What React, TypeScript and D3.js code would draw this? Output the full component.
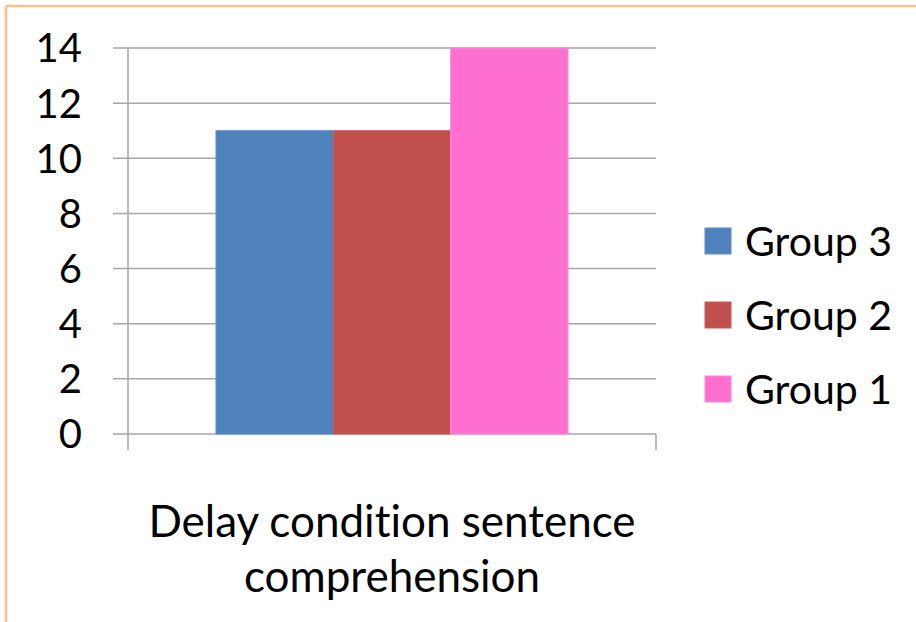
import React from 'react';
import * as d3 from 'd3';

const groups = ['Group 3', 'Group 2', 'Group 1'];
const values = [11, 11, 14];
const colors = ['#4F81BD', '#C0504D', '#FF6FCF'];
const strokes = ['#5B8DC9', '#C95B58', '#FF8AD8'];
const yTicks = [0, 2, 4, 6, 8, 10, 12, 14];
const categoryLines = ['Delay condition sentence', 'comprehension'];

const W = 916;
const H = 622;
const plot = { left: 128, right: 656, top: 48, bottom: 434 };
const font = 'Lato, "Open Sans", sans-serif';

const App = () => {
    const y = d3.scaleLinear().domain([0, 14]).range([plot.bottom, plot.top]);
    // one category, gap width 150% like the original spreadsheet chart
    const x = d3.scaleBand().domain(['c']).range([plot.left, plot.right]).paddingInner(0);
    const bandW = x.bandwidth();
    const barW = bandW / (groups.length + 1.5);
    const startX = (x('c') as number) + (bandW - barW * groups.length) / 2;
    const inner = d3.scaleBand().domain(groups).range([startX, startX + barW * groups.length]);

    return (
        <svg width={W} height={H}
             style={{ position: 'absolute', left: 0, top: 0, display: 'block', background: '#fff', fontVariantLigatures: 'none' }}>
            {/* frame: only top and left edges show in the picture */}
            <line x1={6} x2={W} y1={6} y2={6} stroke="#FAC090" strokeWidth={2.5} />
            <line x1={6} x2={6} y1={6} y2={H} stroke="#FAC090" strokeWidth={2.5} />
            {yTicks.map(t => (
                <g key={t}>
                    <line x1={plot.left - 15} x2={plot.right} y1={y(t)} y2={y(t)} stroke="#A6A6A6" strokeWidth={1.5} />
                    <text x={82} y={y(t)} dy="0.36em" textAnchor="end" fontFamily={font} fontSize={40} fill="#000">{t}</text>
                </g>
            ))}
            <line x1={plot.left} x2={plot.left} y1={plot.top} y2={plot.bottom + 16} stroke="#A6A6A6" strokeWidth={1.5} />
            <line x1={plot.right} x2={plot.right} y1={plot.bottom} y2={plot.bottom + 16} stroke="#A6A6A6" strokeWidth={1.5} />
            {groups.map((g, i) => (
                <rect key={g} x={inner(g)} y={y(values[i])} width={inner.bandwidth()} height={y(0) - y(values[i])}
                      fill={colors[i]} stroke={strokes[i]} strokeWidth={1} />
            ))}
            {categoryLines.map((l, i) => (
                <text key={l} x={(x('c') as number) + bandW / 2} y={537 + i * 55} textAnchor="middle"
                      fontFamily={font} fontSize={44} fill="#000">{l}</text>
            ))}
            {groups.map((g, i) => (
                <g key={g} transform={`translate(705, ${241 + i * 74})`}>
                    <rect x={0} y={-13} width={26} height={26} fill={colors[i]} stroke={strokes[i]} strokeWidth={1} />
                    <text x={40} y={0} dy="0.36em" fontFamily={font} fontSize={41} fill="#000">{g}</text>
                </g>
            ))}
        </svg>
    );
};

export default App;
